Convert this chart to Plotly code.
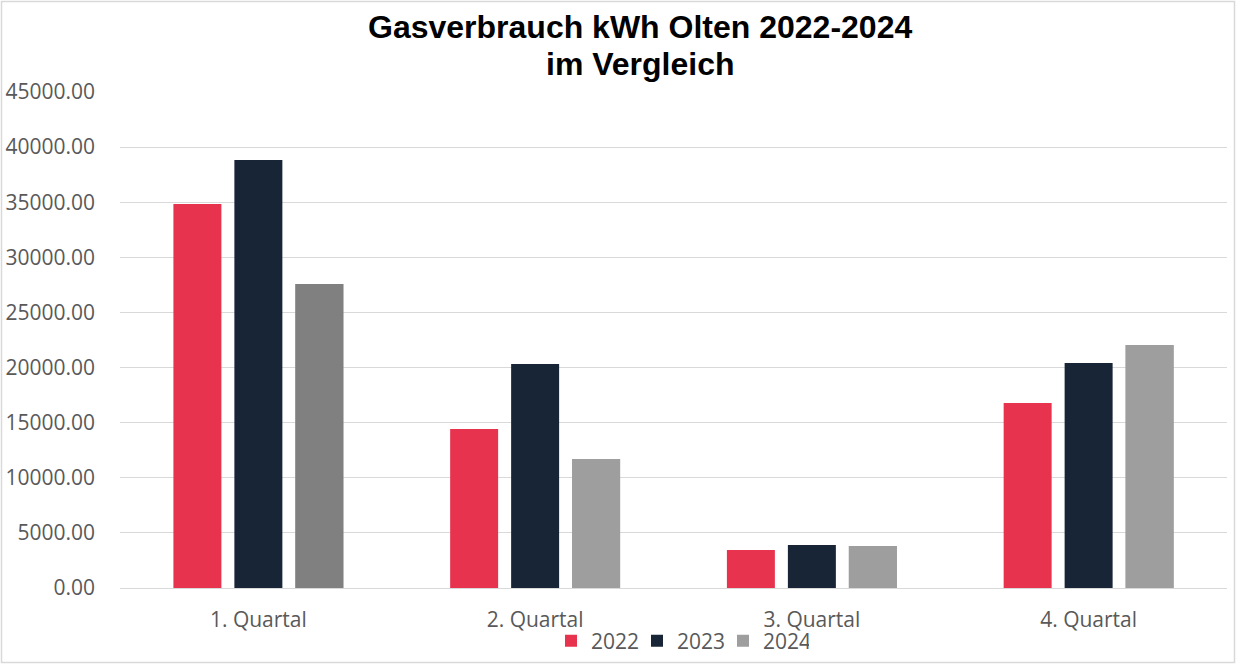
import plotly.graph_objects as go

categories = ["1. Quartal", "2. Quartal", "3. Quartal", "4. Quartal"]
years = ["2022", "2023", "2024"]
v2022 = [34850, 14430, 3450, 16790]
v2023 = [38830, 20320, 3900, 20410]
v2024 = [27580, 11700, 3810, 22050]
y_ticks = [0, 5000, 10000, 15000, 20000, 25000, 30000, 35000, 40000, 45000]
title_lines = ["Gasverbrauch kWh Olten 2022-2024", "im Vergleich"]

c2022 = "#e8334f"
c2023 = "#172536"
c2024 = "#9e9e9e"
c2024_q1 = "#808080"

W, H = 1236, 664
ml, mr, mt, mb = 120, 9, 92, 76
pw, ph = W - ml - mr, H - mt - mb

tick_font = dict(family="Open Sans", size=21, color="#595959")

fig = go.Figure()
fig.add_bar(x=categories, y=v2022, name=years[0], marker_color=c2022,
            marker_line_width=0, offsetgroup="a")
fig.add_bar(x=categories, y=v2023, name=years[1], marker_color=c2023,
            marker_line_width=0, offsetgroup="b")
# legend entry for 2024 (uniform colour), drawn underneath the real bars
fig.add_bar(x=categories, y=v2024, name=years[2], marker_color=c2024,
            marker_line_width=0, offsetgroup="c")
fig.add_bar(x=categories, y=v2024, name=years[2], showlegend=False,
            marker_color=[c2024_q1, c2024, c2024, c2024],
            marker_line_width=0, offsetgroup="c")

fig.update_layout(
    width=W, height=H,
    margin=dict(l=ml, r=mr, t=mt, b=mb, autoexpand=False),
    paper_bgcolor="white", plot_bgcolor="white",
    barmode="group", bargap=0.339, bargroupgap=0.213,
    legend=dict(orientation="h", xref="container", x=680 / W, xanchor="center",
                yref="container", y=1 - 641 / H, yanchor="middle",
                font=tick_font, bgcolor="rgba(0,0,0,0)",
                itemwidth=30, entrywidth=41, entrywidthmode="pixels",
                traceorder="normal"),
    showlegend=True,
    font=tick_font,
)
for line, yc in zip(title_lines, [27, 64]):
    fig.add_annotation(text=f"<b>{line}</b>",
                       font=dict(family="Liberation Sans", size=32, color="black"),
                       xref="paper", yref="paper", x=(640 - ml) / pw, xanchor="center",
                       y=(588 - yc) / ph, yanchor="middle", showarrow=False)
fig.update_yaxes(range=[0, 45000], tickvals=y_ticks,
                 ticktext=[f"{v:.2f}" for v in y_ticks],
                 showgrid=True, gridcolor="#d9d9d9", gridwidth=1,
                 zeroline=False, showline=False, ticks="", automargin=False,
                 ticklabelstandoff=24, tickfont=tick_font)
fig.update_xaxes(showline=True, linecolor="#d9d9d9", linewidth=1,
                 showgrid=False, ticks="", ticklabelstandoff=13, automargin=False,
                 tickfont=tick_font)
fig.add_shape(type="rect", xref="paper", yref="paper",
              x0=(1.5 - ml) / pw, x1=(1234.5 - ml) / pw,
              y0=(588 - 662.5) / ph, y1=(588 - 1.5) / ph,
              line=dict(color="#d9d9d9", width=1.5), fillcolor="rgba(0,0,0,0)")

fig.write_html("out.html", config={"displayModeBar": False},
               post_script="document.body.style.margin='0';document.body.style.overflow='hidden';")
